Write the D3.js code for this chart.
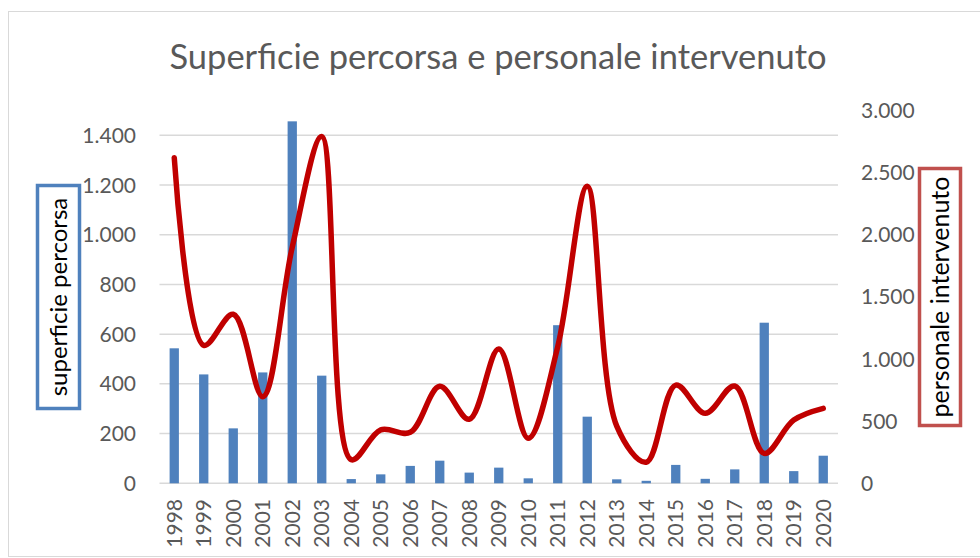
<!DOCTYPE html>
<html>
<head>
<meta charset="utf-8">
<script src="https://cdn.jsdelivr.net/npm/d3@7"></script>
<style>
html,body{margin:0;padding:0;background:#fff;}
svg{display:block;}
text{font-family:Lato,"Open Sans",sans-serif;}
</style>
</head>
<body>
<svg id="chart" width="980" height="558"></svg>
<script>
const years = ["1998","1999","2000","2001","2002","2003","2004","2005","2006","2007","2008","2009","2010","2011","2012","2013","2014","2015","2016","2017","2018","2019","2020"];
const superficie = [543,438,221,446,1456,433,17,36,70,91,43,63,20,636,268,16,10,74,18,56,646,49,111];
const personale = [2620,1110,1360,697,1900,2790,190,430,410,780,515,1080,362,1100,2390,460,170,790,563,783,241,509,603];
const leftTicks = [0,200,400,600,800,1000,1200,1400];
const rightTicks = [0,500,1000,1500,2000,2500,3000];
const titleText = "Superficie percorsa e personale intervenuto";
const leftTitle = "superficie percorsa";
const rightTitle = "personale intervenuto";

const svg = d3.select("#chart");
const plot = {left:159.5, right:838, top:110.4, bottom:483.3};
const fmt = d3.formatLocale({decimal:",", thousands:".", grouping:[3], currency:["€",""]}).format(",d");

// outer border
svg.append("rect").attr("x",8.5).attr("y",11.5).attr("width",990).attr("height",545)
  .attr("fill","#fff").attr("stroke","#d9d9d9").attr("stroke-width",1);

const x = d3.scaleBand().domain(years).range([plot.left, plot.right]).paddingInner(0.685).paddingOuter(0.3425);
const yL = d3.scaleLinear().domain([0,1500]).range([plot.bottom, plot.top]);
const yR = d3.scaleLinear().domain([0,3000]).range([plot.bottom, plot.top]);

// gridlines
svg.append("g").selectAll("line").data(leftTicks).join("line")
  .attr("x1",plot.left).attr("x2",plot.right)
  .attr("y1",d=>yL(d)).attr("y2",d=>yL(d))
  .attr("stroke","#d9d9d9").attr("stroke-width",1.5);

// left axis labels
svg.append("g").selectAll("text").data(leftTicks).join("text")
  .attr("x",136).attr("y",d=>yL(d)).attr("dy","0.36em")
  .attr("text-anchor","end").attr("font-size",21).attr("fill","#595959")
  .text(d=>fmt(d));

// right axis labels
svg.append("g").selectAll("text").data(rightTicks).join("text")
  .attr("x",861).attr("y",d=>yR(d)).attr("dy","0.36em")
  .attr("text-anchor","start").attr("font-size",21).attr("fill","#595959")
  .text(d=>fmt(d));

// bars
svg.append("g").selectAll("rect").data(years).join("rect")
  .attr("x",d=>x(d)).attr("width",x.bandwidth())
  .attr("y",(d,i)=>yL(superficie[i]))
  .attr("height",(d,i)=>yL(0)-yL(superficie[i]))
  .attr("fill","#4f81bd");

// x labels
svg.append("g").selectAll("text").data(years).join("text")
  .attr("transform",d=>`translate(${x(d)+x.bandwidth()/2},499) rotate(-90)`)
  .attr("dy","0.36em").attr("text-anchor","end")
  .attr("font-size",21).attr("fill","#595959").text(d=>d);

// line
const line = d3.line()
  .x((d,i)=>x(years[i])+x.bandwidth()/2)
  .y(d=>yR(d))
  .curve(d3.curveCatmullRom.alpha(0.5));
svg.append("path").datum(personale).attr("d",line)
  .attr("fill","none").attr("stroke","#c00000").attr("stroke-width",5.5)
  .attr("stroke-linecap","round").attr("stroke-linejoin","round");

// title
svg.append("text").attr("x",498).attr("y",57).attr("dy","0.35em")
  .attr("text-anchor","middle").attr("font-size",34.5).attr("fill","#595959")
  .text(titleText);

// left axis title box
svg.append("rect").attr("x",37.5).attr("y",185.5).attr("width",42).attr("height",223)
  .attr("fill","#fff").attr("stroke","#4f81bd").attr("stroke-width",3.5);
svg.append("text").attr("transform","translate(59,297) rotate(-90)")
  .attr("dy","0.35em").attr("text-anchor","middle").attr("font-size",24).attr("fill","#000")
  .text(leftTitle);

// right axis title box
svg.append("rect").attr("x",919.5).attr("y",168.5).attr("width",41).attr("height",257)
  .attr("fill","#fff").attr("stroke","#c0504d").attr("stroke-width",3.5);
svg.append("text").attr("transform","translate(940,297) rotate(-90)")
  .attr("dy","0.35em").attr("text-anchor","middle").attr("font-size",25).attr("fill","#000")
  .text(rightTitle);
</script>
</body>
</html>
